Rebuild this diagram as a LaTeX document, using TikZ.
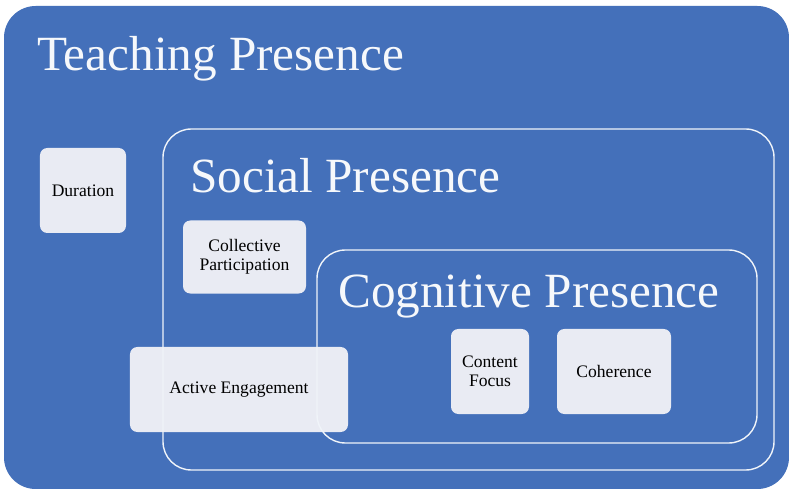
\documentclass[tikz,border=0pt]{standalone}
\usepackage{fontspec}
\setmainfont{Liberation Serif}
\usepackage{xcolor}
\usepackage{tikz}
\usetikzlibrary{positioning}

\definecolor{presblue}{HTML}{4470BA}
\definecolor{cardfill}{HTML}{E9EBF3}

\begin{document}
\begin{tikzpicture}[
  x=0.03cm, y=-0.03cm,
  frame/.style={draw=white!92!presblue, line width=1.2pt, rounded corners=0.85cm},
  title/.style={anchor=base west, inner sep=0pt, text=white!95!presblue,
                font=\fontsize{42}{46}\selectfont},
  card/.style={fill=cardfill, rounded corners=0.22cm, align=center,
               text=black, inner sep=2pt, minimum height=2.55cm,
               font=\fontsize{15}{16.5}\selectfont}
]
\useasboundingbox (0,0) rectangle (789,489);
\fill[white] (0,0) rectangle (789,489);
\fill[presblue, rounded corners=0.95cm] (4,6) rectangle (789,489);

\node[title] (teaching) at (37,71) {Teaching Presence};
\node[title] (social) at (190,193) {Social Presence};
\node[title] (cognitive) at (338,308) {Cognitive Presence};

\node[card, minimum width=2.58cm] (duration) at (83,190.5) {Duration};
\node[card, minimum width=3.69cm, minimum height=2.19cm] (collective) at (244.5,257)
  {Collective\\Participation};
\node[card, minimum width=6.54cm] (active) at (239,389.5) {Active Engagement};
\node[card, minimum width=2.34cm] (focus) at (490,371.5) {Content\\Focus};
\node[card, minimum width=3.42cm] (coherence) at (614,371.5) {Coherence};

% frames on top, so they show faintly through the engagement card
\draw[frame] (163,129) rectangle (774,470);
\draw[frame] (317,250) rectangle (757,443);
\end{tikzpicture}
\end{document}
